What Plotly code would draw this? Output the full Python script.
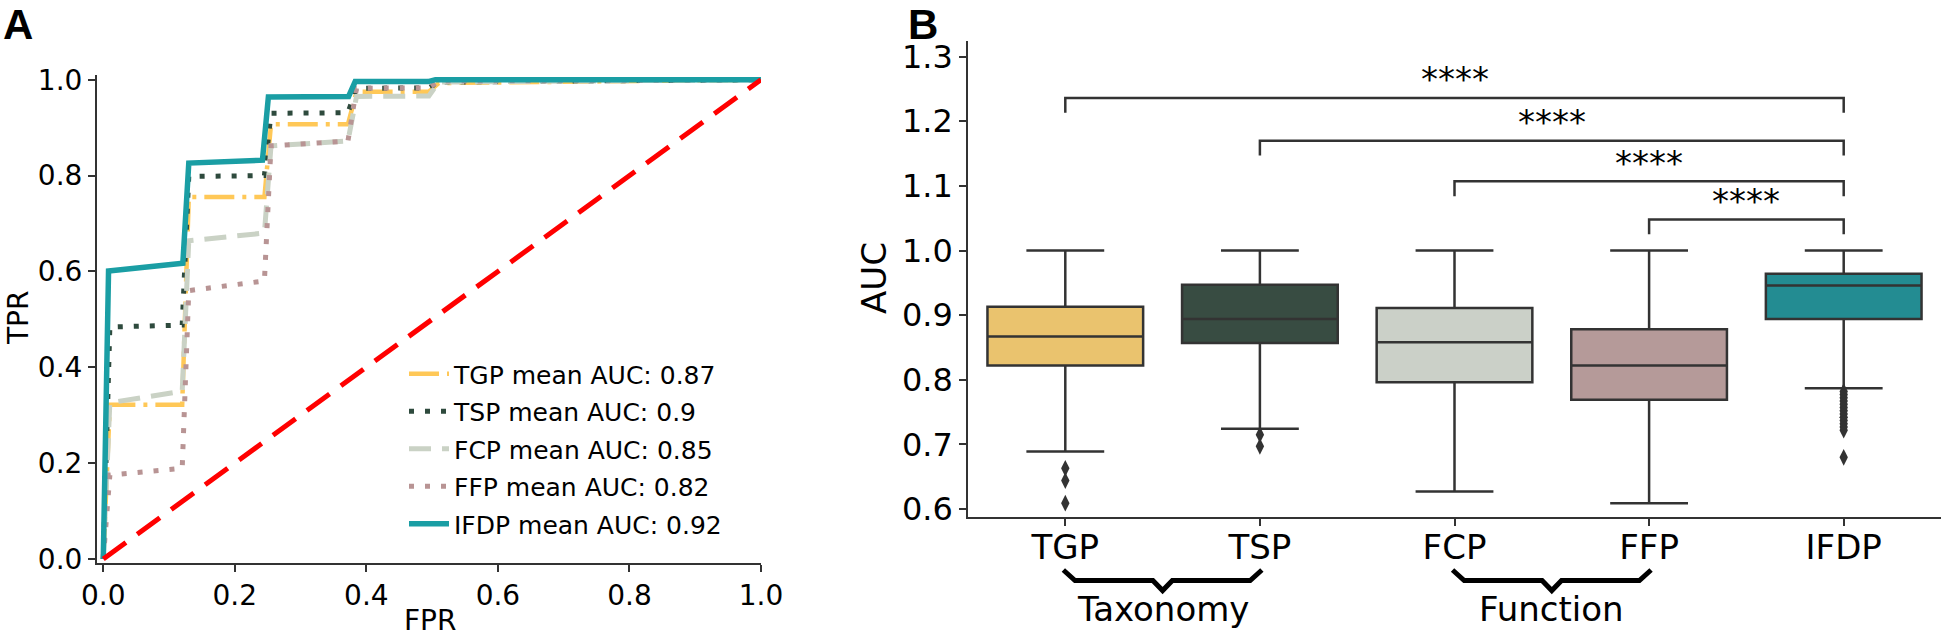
import plotly.graph_objects as go

# ---- panel A: mean ROC curves ----
roc_names = ["TGP", "TSP", "FCP", "FFP", "IFDP"]
roc_auc = [0.87, 0.9, 0.85, 0.82, 0.92]
roc_colors = ["#FFC857", "#2E4A3D", "#CAD2C5", "#B89494", "#1A9EA4"]
roc_dash = ["30px,8px,4px,8px", "5px,11px", "22px,11px", "5px,11px", "solid"]
roc_width = [4.5, 5, 5, 5, 5.5]

fpr_tgp = [0.0, 0.01, 0.12, 0.13, 0.245, 0.255, 0.372, 0.385, 0.495, 0.51, 1.0]
tpr_tgp = [0.0, 0.322, 0.322, 0.755, 0.755, 0.907, 0.907, 0.975, 0.975, 0.993, 1.0]
fpr_tsp = [0.0, 0.01, 0.12, 0.13, 0.245, 0.255, 0.372, 0.385, 0.495, 0.51, 1.0]
tpr_tsp = [0.0, 0.484, 0.488, 0.798, 0.800, 0.930, 0.931, 0.982, 0.983, 0.995, 1.0]
fpr_fcp = [0.0, 0.01, 0.12, 0.13, 0.245, 0.255, 0.372, 0.385, 0.495, 0.51, 1.0]
tpr_fcp = [0.0, 0.326, 0.350, 0.664, 0.680, 0.862, 0.872, 0.965, 0.966, 0.995, 1.0]
fpr_ffp = [0.0, 0.01, 0.12, 0.13, 0.245, 0.255, 0.372, 0.385, 0.495, 0.51, 1.0]
tpr_ffp = [0.0, 0.175, 0.189, 0.560, 0.580, 0.862, 0.872, 0.982, 0.983, 0.997, 1.0]
fpr_ifdp = [0.0, 0.008, 0.121, 0.13, 0.242, 0.251, 0.373, 0.383, 0.494, 0.505, 1.0]
tpr_ifdp = [0.0, 0.601, 0.617, 0.826, 0.832, 0.964, 0.965, 0.996, 0.996, 1.0, 1.0]
chance_x = [0.0, 1.0]
chance_y = [0.0, 1.0]

roc_fpr = [fpr_tgp, fpr_tsp, fpr_fcp, fpr_ffp, fpr_ifdp]
roc_tpr = [tpr_tgp, tpr_tsp, tpr_fcp, tpr_ffp, tpr_ifdp]

# ---- panel B: AUC boxplots ----
box_names = ["TGP", "TSP", "FCP", "FFP", "IFDP"]
box_colors = ["#EAC36E", "#384C42", "#CBD0C8", "#B59A99", "#238C92"]
box_q1 = [0.822, 0.857, 0.796, 0.769, 0.894]
box_median = [0.867, 0.894, 0.858, 0.822, 0.946]
box_q3 = [0.913, 0.947, 0.911, 0.878, 0.964]
box_low = [0.689, 0.724, 0.627, 0.609, 0.787]
box_high = [1.0, 1.0, 1.0, 1.0, 1.0]
outliers = [
    [0.663, 0.644, 0.609],
    [0.715, 0.697],
    [],
    [],
    [0.782, 0.777, 0.772, 0.767, 0.762, 0.757, 0.752, 0.747, 0.742,
     0.737, 0.732, 0.727, 0.722, 0.680],
]
# significance brackets: (left, right, height)
comparisons = [(0, 4, 1.236), (1, 4, 1.170), (2, 4, 1.107), (3, 4, 1.048)]
sig_label = "****"
groups = [("Taxonomy", 0, 1), ("Function", 2, 3)]

FONT = "DejaVu Sans"
W, H = 1944, 631

fig = go.Figure()

for i, name in enumerate(roc_names):
    fig.add_trace(
        go.Scatter(
            x=roc_fpr[i],
            y=roc_tpr[i],
            mode="lines",
            name=f"{name} mean AUC: {roc_auc[i]}",
            legendgroup=name,
            line={"color": roc_colors[i], "width": roc_width[i], "dash": roc_dash[i]},
            xaxis="x",
            yaxis="y",
        )
    )
fig.add_trace(
    go.Scatter(
        x=chance_x,
        y=chance_y,
        mode="lines",
        line={"color": "#FF0000", "width": 5, "dash": "28px,14px"},
        showlegend=False,
        xaxis="x",
        yaxis="y",
    )
)

for i, name in enumerate(box_names):
    fig.add_trace(
        go.Box(
            x=[i],
            q1=[box_q1[i]],
            median=[box_median[i]],
            q3=[box_q3[i]],
            lowerfence=[box_low[i]],
            upperfence=[box_high[i]],
            fillcolor=box_colors[i],
            line={"color": "#333333", "width": 2.5},
            whiskerwidth=0.5,
            width=0.8,
            boxpoints=False,
            showlegend=False,
            xaxis="x2",
            yaxis="y2",
        )
    )
    if outliers[i]:
        fig.add_trace(
            go.Scatter(
                x=[i] * len(outliers[i]),
                y=outliers[i],
                mode="markers",
                marker={"symbol": "diamond-tall", "size": 12, "color": "#333333"},
                showlegend=False,
                xaxis="x2",
                yaxis="y2",
            )
        )

leg = 0.023
annotations = []
for a, b, h in comparisons:
    fig.add_trace(
        go.Scatter(
            x=[a, a, b, b],
            y=[h - leg, h, h, h - leg],
            mode="lines",
            line={"color": "#333333", "width": 2.5},
            showlegend=False,
            xaxis="x2",
            yaxis="y2",
        )
    )
    annotations.append(
        dict(x=(a + b) / 2, y=h - 0.005, xref="x2", yref="y2", text=sig_label,
             showarrow=False, xanchor="center", yanchor="bottom",
             font={"size": 34, "family": FONT, "color": "black"})
    )

shapes = []
top, mid, tip = 1 - 570 / H, 1 - 580.5 / H, 1 - 590.6 / H
for label, a, b in groups:
    c = (a + b) / 2
    path = (f"M{a - 0.01},{top} L{a + 0.05},{mid} L{c - 0.05},{mid} L{c},{tip} "
            f"L{c + 0.05},{mid} L{b - 0.05},{mid} L{b + 0.01},{top}")
    shapes.append(dict(type="path", path=path, xref="x2", yref="paper",
                       line={"color": "black", "width": 5}))
    annotations.append(
        dict(x=c, y=1 - 609 / H, xref="x2", yref="paper", text=label, showarrow=False,
             xanchor="center", yanchor="middle",
             font={"size": 34, "family": FONT, "color": "black"})
    )

annotations += [
    dict(x=1 / W, y=1 - 24 / H, xref="paper", yref="paper", text="<b>A</b>", showarrow=False,
         xanchor="left", yanchor="middle",
         font={"size": 42, "family": "Liberation Sans", "color": "black"}),
    dict(x=906 / W, y=1 - 24 / H, xref="paper", yref="paper", text="<b>B</b>", showarrow=False,
         xanchor="left", yanchor="middle",
         font={"size": 42, "family": "Liberation Sans", "color": "black"}),
    dict(x=18 / W, y=1 - 318 / H, xref="paper", yref="paper", text="TPR", showarrow=False,
         textangle=-90, xanchor="center", yanchor="middle",
         font={"size": 28, "family": FONT, "color": "black"}),
    dict(x=430 / W, y=1 - 620 / H, xref="paper", yref="paper", text="FPR", showarrow=False,
         xanchor="center", yanchor="middle",
         font={"size": 28, "family": FONT, "color": "black"}),
    dict(x=874 / W, y=1 - 278 / H, xref="paper", yref="paper", text="AUC", showarrow=False,
         textangle=-90, xanchor="center", yanchor="middle",
         font={"size": 34, "family": FONT, "color": "black"}),
]

axis_common = dict(showgrid=False, zeroline=False, showline=True, linecolor="#333333",
                   linewidth=1.5, ticks="outside", ticklen=7, tickwidth=1.5,
                   tickcolor="#333333", automargin=False)

fig.update_layout(
    template="none",
    width=W,
    height=H,
    margin={"l": 0, "r": 0, "t": 0, "b": 0},
    paper_bgcolor="white",
    plot_bgcolor="white",
    font={"family": FONT, "color": "black"},
    xaxis=dict(domain=[96.7 / W, 761 / W], range=[-0.01, 1.0], anchor="y",
               tickvals=[0, 0.2, 0.4, 0.6, 0.8, 1.0],
               ticktext=["0.0", "0.2", "0.4", "0.6", "0.8", "1.0"],
               tickfont={"size": 28}, **axis_common),
    yaxis=dict(domain=[1 - 562.8 / H, 1 - 74.9 / H], range=[-0.008, 1.01], anchor="x",
               tickvals=[0, 0.2, 0.4, 0.6, 0.8, 1.0],
               ticktext=["0.0", "0.2", "0.4", "0.6", "0.8", "1.0"],
               tickfont={"size": 28}, **axis_common),
    xaxis2=dict(domain=[968 / W, 1941 / W], range=[-0.5, 4.5], anchor="y2",
                tickvals=list(range(len(box_names))), ticktext=box_names,
                tickfont={"size": 34}, ticklabelstandoff=-8, **axis_common),
    yaxis2=dict(domain=[1 - 517 / H, 1 - 40.5 / H], range=[0.5876, 1.325], anchor="x2",
                tickvals=[0.6, 0.7, 0.8, 0.9, 1.0, 1.1, 1.2, 1.3],
                ticktext=["0.6", "0.7", "0.8", "0.9", "1.0", "1.1", "1.2", "1.3"],
                tickfont={"size": 32}, **axis_common),
    legend=dict(x=404 / W, y=1 - 351 / H, xanchor="left", yanchor="top",
                bgcolor="rgba(0,0,0,0)", font={"size": 25, "family": FONT},
                itemwidth=40, tracegroupgap=2),
    annotations=annotations,
    shapes=shapes,
)

# the page body has a default 8px margin; drop it so the figure sits at the window origin
fig.write_html(
    "out.html",
    config={"displayModeBar": False},
    post_script="document.body.style.margin='0';document.body.style.overflow='hidden';",
)
